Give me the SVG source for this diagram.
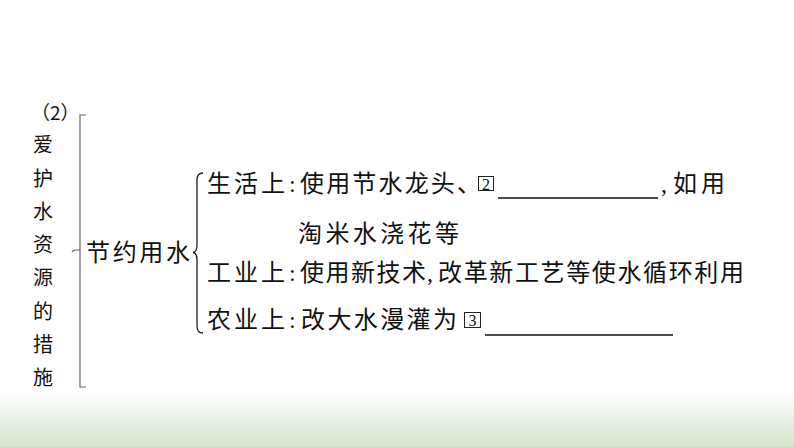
<svg xmlns="http://www.w3.org/2000/svg" width="794" height="447" viewBox="0 0 794 447">
<defs>
<linearGradient id="bg" x1="0" y1="0" x2="0" y2="1">
<stop offset="0" stop-color="#ffffff"/>
<stop offset="1" stop-color="#d3e3cc"/>
</linearGradient>
<style>
.t{font-family:"Liberation Serif","Noto Sans CJK SC",serif;font-size:24px;fill:#111}
.p{font-family:"Noto Sans CJK SC",serif;font-size:19px;fill:#111}
.v{font-family:"Liberation Serif","Noto Sans CJK SC",serif;font-size:20px;fill:#111;text-anchor:middle}
.n{font-family:"Liberation Serif",serif;font-size:16px;fill:#111;text-anchor:middle}
.box{fill:none;stroke:#222;stroke-width:1}
.ul{stroke:#111;stroke-width:1.4}
.br{fill:none;stroke:#666;stroke-width:1.2}
.cb{fill:none;stroke:#222;stroke-width:1.3}
</style>
</defs>
<rect x="0" y="0" width="794" height="447" fill="#ffffff"/>
<rect x="0" y="392" width="794" height="55" fill="url(#bg)"/>

<g id="connectors">
<path class="br" d="M86,115 L80,115 L80,387 L86,387 M80,250 L76,250 Q73,250 72,252"/>
<path class="cb" d="M203,173 Q197,173 197,180 L197,245 Q197,252 193,252.5 Q197,253 197,260 L197,326 Q197,333 203,333"/>
</g>

<g id="root">
<text class="p" x="31" y="120">（2）</text>
<text class="v" x="43" y="152">爱</text>
<text class="v" x="43" y="185.5">护</text>
<text class="v" x="43" y="218.8">水</text>
<text class="v" x="43" y="252">资</text>
<text class="v" x="43" y="285.4">源</text>
<text class="v" x="43" y="318.7">的</text>
<text class="v" x="43" y="352">措</text>
<text class="v" x="43" y="385.3">施</text>
</g>

<g id="save-water">
<text class="t" x="86" y="260.5" textLength="104">节约用水</text>
</g>

<g id="life">
<text class="t" x="207" y="192" textLength="78">生活上</text>
<text class="t" x="289" y="192">:</text>
<text class="t" x="300" y="192" textLength="181">使用节水龙头、</text>
<rect class="box" x="478.5" y="176.5" width="15" height="14"/>
<text class="n" x="486" y="189.5">2</text>
<line class="ul" x1="498" y1="198" x2="658" y2="198"/>
<text class="t" x="661" y="192">,</text>
<text class="t" x="673" y="192" textLength="52">如用</text>
<text class="t" x="298" y="241.5" textLength="161">淘米水浇花等</text>
</g>

<g id="industry">
<text class="t" x="207" y="280.5" textLength="78">工业上</text>
<text class="t" x="289" y="280.5">:</text>
<text class="t" x="300" y="280.5" textLength="126">使用新技术</text>
<text class="t" x="427" y="280.5">,</text>
<text class="t" x="438" y="280.5" textLength="306">改革新工艺等使水循环利用</text>
</g>

<g id="agriculture">
<text class="t" x="207" y="327.5" textLength="78">农业上</text>
<text class="t" x="289" y="327.5">:</text>
<text class="t" x="301" y="327.5" textLength="156">改大水漫灌为</text>
<rect class="box" x="464.5" y="312.5" width="16" height="15"/>
<text class="n" x="472.5" y="326">3</text>
<line class="ul" x1="485" y1="335" x2="673" y2="335"/>
</g>
</svg>
